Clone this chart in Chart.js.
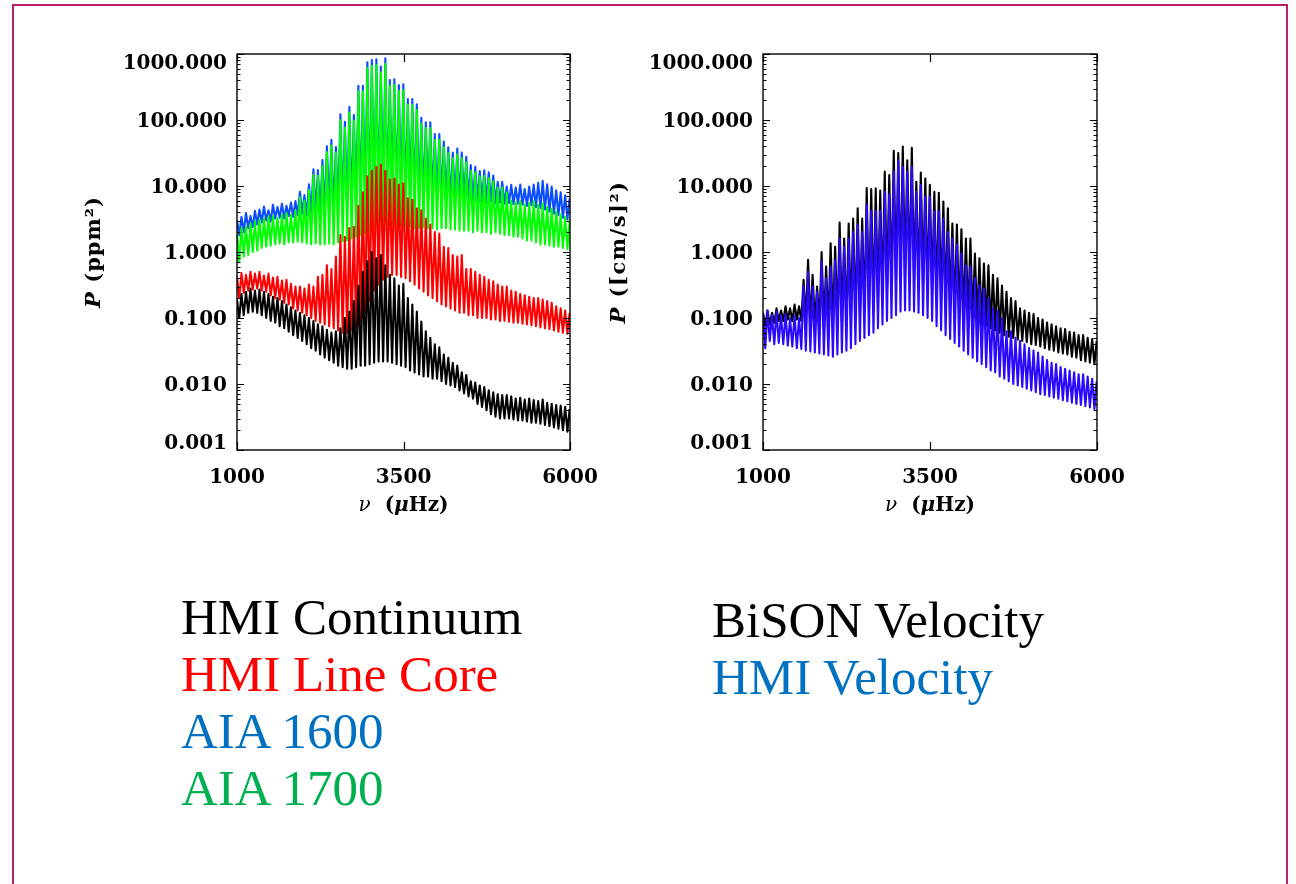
<!DOCTYPE html>
<html>
<head>
<meta charset="utf-8">
<title>Power spectra</title>
<script src="https://cdn.jsdelivr.net/npm/chart.js@4.4.1/dist/chart.umd.min.js"></script>
<style>
  html, body { margin: 0; padding: 0; background: #fff; }
  body { width: 1296px; height: 884px; position: relative; overflow: hidden; }
  .frame { position: absolute; left: 12px; top: 4px; width: 1276px; height: 920px; box-sizing: border-box;
           border: 2px solid #b8226b; border-bottom: none; }
  canvas { position: absolute; top: 0; }
  #leftChart { left: 0; }
  #rightChart { left: 600px; }
  .key { position: absolute; font-family: "Liberation Serif", serif; font-size: 51px; line-height: 51px; white-space: nowrap; }
</style>
</head>
<body>
<div class="frame"></div>
<canvas id="leftChart" width="600" height="540"></canvas>
<canvas id="rightChart" width="696" height="540"></canvas>

<div class="key" style="left:181px; top:592px; color:#000000">HMI Continuum</div>
<div class="key" style="left:181px; top:649px; color:#ff0000">HMI Line Core</div>
<div class="key" style="left:181px; top:706px; color:#0070c0">AIA 1600</div>
<div class="key" style="left:181px; top:763px; color:#00b050">AIA 1700</div>
<div class="key" style="left:712px; top:595px; color:#000000">BiSON Velocity</div>
<div class="key" style="left:712px; top:652px; color:#0070c0">HMI Velocity</div>

<script>
// frequency sampling: "hi" samples every 67.5 uHz from 1000, "lo" samples halfway between
const nuStart = 1000;
const nuStep = 33.75;

const xTicks = [1000, 3500, 6000];
const xTickLabels = ["1000", "3500", "6000"];
const yTicks = [0.001, 0.01, 0.1, 1, 10, 100, 1000];
const yTickLabels = ["0.001", "0.010", "0.100", "1.000", "10.000", "100.000", "1000.000"];

// ---- left panel, P (ppm^2)
const aia1600Hi = [3.0, 3.4, 3.9, 3.5, 4.2, 4.4, 4.9, 4.3, 5.2, 4.8, 5.4, 5.0, 5.6, 5.9,
  8.2, 7.3, 10.6, 17.9, 17.5, 24.8, 40, 50, 39, 122, 94, 159, 119, 331, 331, 748, 811, 830, 643, 859,
  403, 413, 339, 347, 208, 208, 173, 108, 92, 92, 61, 61, 47, 38.5, 32, 37, 32, 27.8, 20.8, 19.6,
  16.9, 17.3, 16.1, 14.4, 11.6, 11.6, 9.8,
  10.4, 9.5, 10.5, 9.0, 9.8, 10.5, 11.2, 12.0, 10.6, 9.8, 8.6, 8.0, 7.2, 6.5];
const aia1600Lo = [1.8, 2.0, 2.3, 2.4, 2.6, 2.8, 3.0, 2.9, 3.2, 3.3, 3.2, 3.5, 3.4, 3.6,
  3.8, 3.6, 3.9, 4.0, 3.8, 4.1, 4.2, 4.0, 4.3, 4.4, 4.2, 4.5, 4.6, 4.8, 5.0, 5.2, 5.4,
  5.6, 5.8, 6.0, 5.9, 6.1, 6.2, 6.0, 6.2, 6.3, 6.1, 6.2, 6.0, 6.1, 6.2, 6.0, 6.1, 5.9, 6.0, 6.2, 5.8,
  5.9, 5.7, 5.9, 5.8, 5.6, 5.8, 5.5, 5.6, 5.4, 5.5, 5.3, 5.4, 5.2, 5.0, 5.1, 4.8, 4.6, 4.4, 4.1, 3.8, 3.6, 3.3, 3.1];

const aia1700Hi = [2.0, 2.3, 2.4, 2.7, 2.9, 3.1, 3.2, 3.5, 3.5, 3.3, 3.7, 3.9, 3.7, 4.3,
  6.7, 6.0, 8.7, 14.7, 14.3, 20.3, 32.8, 41, 32, 100, 77, 130, 97.5, 271, 271, 613, 665, 680, 527, 704,
  330, 339, 278, 284, 170, 170, 142, 88.5, 75.4, 75.4, 50, 50, 38.5, 31.6, 26.2, 30.3, 26.2, 22.8, 17,
  16.1, 13.9, 14.2, 13.2, 11.8, 9.5, 9.5, 8.0,
  6.0, 5.6, 5.9, 5.3, 5.5, 5.8, 5.2, 5.4, 4.8, 4.5, 4.1, 3.7, 3.4, 3.0];
const aia1700Lo = [0.72, 0.85, 0.9, 1.0, 1.05, 1.15, 1.2, 1.25, 1.3, 1.35, 1.3, 1.4, 1.4, 1.45,
  1.4, 1.35, 1.3, 1.35, 1.3, 1.3, 1.35, 1.3, 1.4, 1.45, 1.5, 1.6, 1.7, 1.8, 1.9, 2.1, 2.3,
  2.4, 2.5, 2.6, 2.6, 2.5, 2.5, 2.4, 2.4, 2.3, 2.3, 2.4, 2.3, 2.3, 2.2, 2.3, 2.3, 2.2, 2.2, 2.1, 2.1,
  2.1, 2.0, 2.1, 2.0, 2.0, 1.9, 2.0, 1.9, 1.8, 1.8, 1.7, 1.7, 1.6, 1.5, 1.5, 1.4, 1.3, 1.3, 1.25, 1.2, 1.2, 1.15, 1.1];

const lineCoreHi = [0.42, 0.48, 0.45, 0.5, 0.47, 0.5, 0.44, 0.47, 0.41, 0.42, 0.37, 0.38, 0.33, 0.3,
  0.3, 0.28, 0.32, 0.3, 0.42, 0.45, 0.63, 0.55, 0.85, 1.8, 1.7, 2.3, 2.4, 5.0, 8.0, 14, 17, 19.5, 21, 17,
  12.5, 13, 10.5, 11, 6.5, 6.2, 4.6, 4.3, 3.2, 2.6, 2.0, 1.9, 1.2, 1.15, 0.9, 0.85, 0.9, 0.55, 0.55, 0.5,
  0.45, 0.42, 0.38, 0.36, 0.32, 0.3, 0.3,
  0.26, 0.25, 0.23, 0.22, 0.21, 0.2, 0.2, 0.19, 0.18, 0.17, 0.15, 0.14, 0.13, 0.12];
const lineCoreLo = [0.2, 0.24, 0.26, 0.27, 0.28, 0.26, 0.25, 0.22, 0.2, 0.19, 0.17, 0.16, 0.14, 0.13,
  0.12, 0.11, 0.1, 0.09, 0.085, 0.08, 0.075, 0.07, 0.065, 0.06, 0.06, 0.065, 0.07, 0.09, 0.12, 0.18, 0.26,
  0.32, 0.38, 0.42, 0.45, 0.45, 0.42, 0.4, 0.36, 0.32, 0.28, 0.25, 0.22, 0.2, 0.18, 0.16, 0.15, 0.14, 0.13, 0.12, 0.12,
  0.11, 0.11, 0.1, 0.1, 0.1, 0.095, 0.095, 0.09, 0.09, 0.088, 0.085, 0.085, 0.082, 0.08, 0.078, 0.075, 0.072, 0.07,
  0.068, 0.065, 0.062, 0.06, 0.058];

const continuumHi = [0.19, 0.23, 0.25, 0.28, 0.26, 0.27, 0.25, 0.23, 0.21, 0.2, 0.18, 0.16, 0.145, 0.13,
  0.12, 0.11, 0.1, 0.09, 0.08, 0.075, 0.066, 0.06, 0.063, 0.07, 0.1, 0.125, 0.18, 0.31, 0.5, 0.72, 1.0, 0.8,
  0.9, 0.63, 0.45, 0.4, 0.31, 0.33, 0.2, 0.16, 0.125, 0.088, 0.063, 0.05, 0.04, 0.036, 0.028, 0.025, 0.021,
  0.019, 0.015, 0.0137, 0.011, 0.0105, 0.0095, 0.009, 0.008, 0.0075, 0.007, 0.0068, 0.0068,
  0.0065, 0.006, 0.0062, 0.0058, 0.006, 0.0057, 0.0055, 0.0058, 0.0052, 0.005, 0.0048, 0.0047, 0.0045, 0.0042];
const continuumLo = [0.1, 0.11, 0.12, 0.125, 0.12, 0.11, 0.1, 0.09, 0.085, 0.075, 0.07, 0.062, 0.055, 0.05,
  0.045, 0.04, 0.035, 0.032, 0.028, 0.025, 0.023, 0.021, 0.019, 0.018, 0.017, 0.017, 0.018, 0.019, 0.019, 0.02, 0.021,
  0.022, 0.022, 0.022, 0.021, 0.02, 0.019, 0.018, 0.016, 0.015, 0.014, 0.013, 0.013, 0.012, 0.012, 0.011, 0.01,
  0.0095, 0.009, 0.008, 0.0072,
  0.0065, 0.006, 0.005, 0.0045, 0.004, 0.0035, 0.0032, 0.003, 0.003, 0.003, 0.0029, 0.0028, 0.0028, 0.0027,
  0.0026, 0.0026, 0.0025, 0.0024, 0.0023, 0.0022, 0.0021, 0.002, 0.0019];

// ---- right panel, P ([cm/s]^2)
const bisonHi = [0.12, 0.13, 0.12, 0.14, 0.13, 0.15, 0.14, 0.16, 0.15,
  0.38, 0.76, 0.45, 0.3, 1.0, 0.6, 1.35, 1.2, 2.8, 1.6, 2.7, 3.2, 4.6, 3.2, 9.3, 9.0, 9.2, 8.5, 16.5, 14.6,
  34, 31.5, 39.5, 24.6, 38, 11.6, 16, 13, 10.4, 8.2, 7.9, 5.8, 4.6, 2.7, 2.6, 2.2, 1.6, 1.6, 0.95, 0.8,
  0.67, 0.63, 0.45, 0.4, 0.31, 0.25, 0.2, 0.18, 0.14,
  0.13, 0.12, 0.115, 0.1, 0.095, 0.085, 0.08, 0.075, 0.07, 0.068, 0.062, 0.06, 0.055, 0.055, 0.05, 0.048, 0.045];
const bisonLo = [0.075, 0.08, 0.085, 0.09, 0.09, 0.095, 0.09, 0.095, 0.09, 0.09,
  0.085, 0.085, 0.08, 0.08, 0.08, 0.08, 0.085, 0.09, 0.09, 0.1,
  0.1, 0.11, 0.12, 0.13, 0.15, 0.17, 0.22, 0.26, 0.3, 0.35,
  0.4, 0.42, 0.42, 0.4, 0.36, 0.32, 0.28, 0.25, 0.22, 0.19,
  0.17, 0.15, 0.12, 0.11, 0.1, 0.095, 0.09, 0.085, 0.08, 0.075,
  0.07, 0.065, 0.06, 0.055, 0.052, 0.05, 0.047, 0.045, 0.043, 0.04,
  0.039, 0.037, 0.035, 0.033, 0.032, 0.03, 0.029, 0.028, 0.026, 0.025,
  0.023, 0.022, 0.021, 0.02];

const hmiVelHi = [0.12, 0.13, 0.11, 0.125, 0.11, 0.115, 0.1, 0.11, 0.1,
  0.31, 0.5, 0.3, 0.25, 0.72, 0.4, 0.6, 0.75, 1.6, 1.2, 1.6, 2.0, 2.6, 2.0, 5.2, 4.2, 4.2, 4.2, 8.2, 7.5,
  16.5, 24.6, 19.5, 16.5, 19.5, 8.2, 10.4, 6.9, 6.9, 4.1, 4.2, 3.2, 2.0, 1.6, 1.3, 0.95, 0.63, 0.6, 0.4,
  0.31, 0.28, 0.2, 0.14, 0.126, 0.1, 0.063, 0.063, 0.05, 0.045,
  0.04, 0.035, 0.032, 0.03, 0.026, 0.023, 0.021, 0.02, 0.018, 0.017, 0.016, 0.015, 0.014, 0.014, 0.013, 0.012, 0.011];
const hmiVelLo = [0.035, 0.045, 0.04, 0.042, 0.04, 0.038, 0.037, 0.035, 0.034, 0.032,
  0.031, 0.03, 0.029, 0.028, 0.027, 0.026, 0.028, 0.03, 0.032, 0.035,
  0.04, 0.045, 0.05, 0.055, 0.06, 0.07, 0.08, 0.09, 0.1, 0.11,
  0.125, 0.13, 0.13, 0.125, 0.12, 0.11, 0.1, 0.09, 0.075, 0.065,
  0.055, 0.048, 0.042, 0.037, 0.032, 0.028, 0.025, 0.022, 0.02, 0.018,
  0.016, 0.015, 0.013, 0.012, 0.011, 0.01, 0.0095, 0.009, 0.0085, 0.008,
  0.0075, 0.007, 0.0068, 0.0065, 0.0062, 0.006, 0.0057, 0.0055, 0.0052, 0.005,
  0.0048, 0.0046, 0.0044, 0.0042];

// interleave the peak and trough samples into one line
function spectrum(hi, lo) {
  const pts = [];
  hi.forEach((v, j) => {
    pts.push({ x: nuStart + 2 * nuStep * j, y: v });
    if (j < lo.length) pts.push({ x: nuStart + 2 * nuStep * j + nuStep, y: lo[j] });
  });
  return pts;
}

const labelFont = 'bold 20px "DejaVu Serif"';
const italicFont = 'italic bold 20px "DejaVu Serif"';
const titleFont = 'bold 21px "DejaVu Serif"';
const titleItalic = 'italic bold 21px "DejaVu Serif"';

function drawPieces(ctx, pieces, cx, baseline, spacing) {
  ctx.letterSpacing = (spacing || 0) + "px";
  let total = 0;
  pieces.forEach(([t, f]) => { ctx.font = f; total += ctx.measureText(t).width; });
  let x = cx - total / 2;
  ctx.textAlign = "left";
  ctx.textBaseline = "alphabetic";
  pieces.forEach(([t, f]) => { ctx.font = f; ctx.fillText(t, x, baseline); x += ctx.measureText(t).width; });
  ctx.letterSpacing = "0px";
}

// IDL style box: inward ticks on all four sides, labels left and bottom
const idlAxes = {
  id: "idlAxes",
  afterDraw(chart, args, opts) {
    const { ctx, chartArea: a } = chart;
    const xs = chart.scales.x, ys = chart.scales.y;
    ctx.save();
    ctx.strokeStyle = "#000";
    ctx.lineWidth = 1.2;
    ctx.beginPath();
    yTicks.forEach((v) => {
      const py = Math.round(ys.getPixelForValue(v)) + 0.5;
      ctx.moveTo(a.left, py); ctx.lineTo(a.left + 7, py);
      ctx.moveTo(a.right, py); ctx.lineTo(a.right - 7, py);
      if (v < 1000) {
        for (let m = 2; m <= 9; m++) {
          const pm = Math.round(ys.getPixelForValue(v * m)) + 0.5;
          ctx.moveTo(a.left, pm); ctx.lineTo(a.left + 3.5, pm);
          ctx.moveTo(a.right, pm); ctx.lineTo(a.right - 3.5, pm);
        }
      }
    });
    xTicks.forEach((v) => {
      const px = Math.round(xs.getPixelForValue(v)) + 0.5;
      ctx.moveTo(px, a.bottom); ctx.lineTo(px, a.bottom - 8);
      ctx.moveTo(px, a.top); ctx.lineTo(px, a.top + 8);
    });
    ctx.stroke();
    ctx.lineWidth = 1.4;
    ctx.strokeRect(a.left, a.top, a.right - a.left, a.bottom - a.top);

    ctx.fillStyle = "#000";
    ctx.font = labelFont;
    ctx.textAlign = "right";
    ctx.textBaseline = "alphabetic";
    yTicks.forEach((v, i) => {
      let py = ys.getPixelForValue(v);
      if (i === yTicks.length - 1) py += 7.5;
      if (i === 0) py -= 8;
      ctx.fillText(yTickLabels[i], a.left - 10, py + 7);
    });
    ctx.textAlign = "center";
    xTicks.forEach((v, i) => {
      ctx.fillText(xTickLabels[i], xs.getPixelForValue(v), a.bottom + 33);
    });

    drawPieces(ctx, [["ν", 'italic 20px "DejaVu Serif"'], ["  (", labelFont], ["μ", italicFont], ["Hz)", labelFont]],
      (a.left + a.right) / 2, a.bottom + 61);

    ctx.translate(opts.titleX, (a.top + a.bottom) / 2);
    ctx.rotate(-Math.PI / 2);
    drawPieces(ctx, opts.yTitle, 0, 0, opts.titleSpacing);
    ctx.restore();
  },
};

function baseOptions(padLeft, padRight, titleX, titleSpacing, yTitle) {
  return {
    responsive: false,
    animation: false,
    events: [],
    layout: { padding: { left: padLeft, right: padRight, top: 54, bottom: 90 } },
    elements: { point: { radius: 0 }, line: { tension: 0, borderWidth: 2.1, borderJoinStyle: "round" } },
    scales: {
      x: { type: "linear", min: 1000, max: 6000, display: false },
      y: { type: "logarithmic", min: 0.001, max: 1000, display: false },
    },
    plugins: {
      legend: { display: false },
      tooltip: { enabled: false },
      idlAxes: { titleX: titleX, titleSpacing: titleSpacing, yTitle: yTitle },
    },
  };
}

new Chart(document.getElementById("leftChart"), {
  type: "line",
  data: {
    datasets: [
      { label: "HMI Continuum", data: spectrum(continuumHi, continuumLo), borderColor: "#000000", order: 0 },
      { label: "HMI Line Core", data: spectrum(lineCoreHi, lineCoreLo), borderColor: "#ff0000", order: 1 },
      { label: "AIA 1700", data: spectrum(aia1700Hi, aia1700Lo), borderColor: "#00ff00", order: 2 },
      { label: "AIA 1600", data: spectrum(aia1600Hi, aia1600Lo), borderColor: "#0a4dff", order: 3 },
    ],
  },
  options: baseOptions(237, 30, 99.5, 1, [["P", titleItalic], [" (ppm²)", titleFont]]),
  plugins: [idlAxes],
});

new Chart(document.getElementById("rightChart"), {
  type: "line",
  data: {
    datasets: [
      { label: "HMI Velocity", data: spectrum(hmiVelHi, hmiVelLo), borderColor: "#2a0aff", order: 0 },
      { label: "BiSON Velocity", data: spectrum(bisonHi, bisonLo), borderColor: "#000000", order: 1 },
    ],
  },
  options: baseOptions(163, 199, 24.5, 1.5, [["P", titleItalic], [" ([cm/s]²)", titleFont]]),
  plugins: [idlAxes],
});
</script>
</body>
</html>
